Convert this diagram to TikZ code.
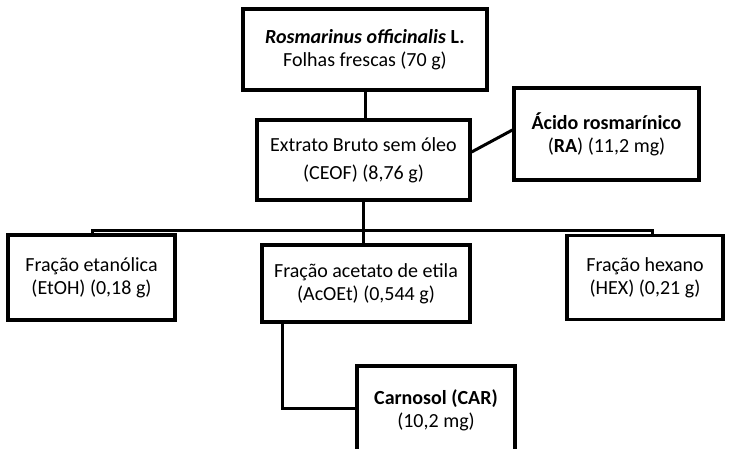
\documentclass[tikz,border=0pt]{standalone}
\usepackage{fontspec}
\setmainfont{Carlito}
\usetikzlibrary{positioning}

\begin{document}
\begin{tikzpicture}[
             x              = 1pt,
             y              = -1pt,
             font           = \fontsize{20}{23}\selectfont,
             box/.style     = {draw, line width = 3.2pt, align = center,
                               inner sep = 0pt},
             link/.style    = {line width = 3pt}]
             \clip (0,0) rectangle (731,449);
             % boxes
             \node [box, minimum width = 244, minimum height = 81] (folhas)
                   at (365,49.5) {\textbf{\textit{Rosmarinus officinalis}} \textbf{L.}\\
                   Folhas frescas (70 g)};
             \node [box, minimum width = 213, minimum height = 80,
                    font = \fontsize{20}{28}\selectfont] (ceof)
                   at (363.5,160) {Extrato Bruto sem óleo\\(CEOF) (8,76 g)};
             \node [box, minimum width = 185, minimum height = 92] (ra)
                   at (606.5,134) {\textbf{Ácido rosmarínico}\\(\textbf{RA}) (11,2 mg)};
             \node [box, minimum width = 167, minimum height = 85] (etoh)
                   at (91.5,277.5) {Fração etanólica\\(EtOH) (0,18 g)};
             \node [box, minimum width = 208, minimum height = 77] (acoet)
                   at (366,283.5) {Fração acetato de etila\\(AcOEt) (0,544 g)};
             \node [box, minimum width = 156, minimum height = 84] (hex)
                   at (645,277.5) {Fração hexano\\(HEX) (0,21 g)};
             \node [box, minimum width = 158, minimum height = 88] (car)
                   at (436,410) {\textbf{Carnosol (CAR)}\\(10,2 mg)};
             % connectors
             \coordinate (barL) at (92,230.5);
             \coordinate (barR) at (652,230.5);
             \coordinate (bend) at (282,408);
             \draw [link] (folhas.south) -- (folhas.south |- ceof.north);
             \draw [link] ([yshift=8pt]ceof.east) -- ([yshift=4pt]ra.west);
             \draw [link] (ceof.south) -- (ceof.south |- barL);
             \draw [link] (etoh.north -| barL) -- (barL) -- (barR)
                   -- (hex.north -| barR);
             \draw [link] (ceof.south |- barL) -- (acoet.north -| ceof.south);
             \draw [link] (acoet.south -| bend) -- (bend) -- (bend -| car.west);
    \end{tikzpicture}
\end{document}
